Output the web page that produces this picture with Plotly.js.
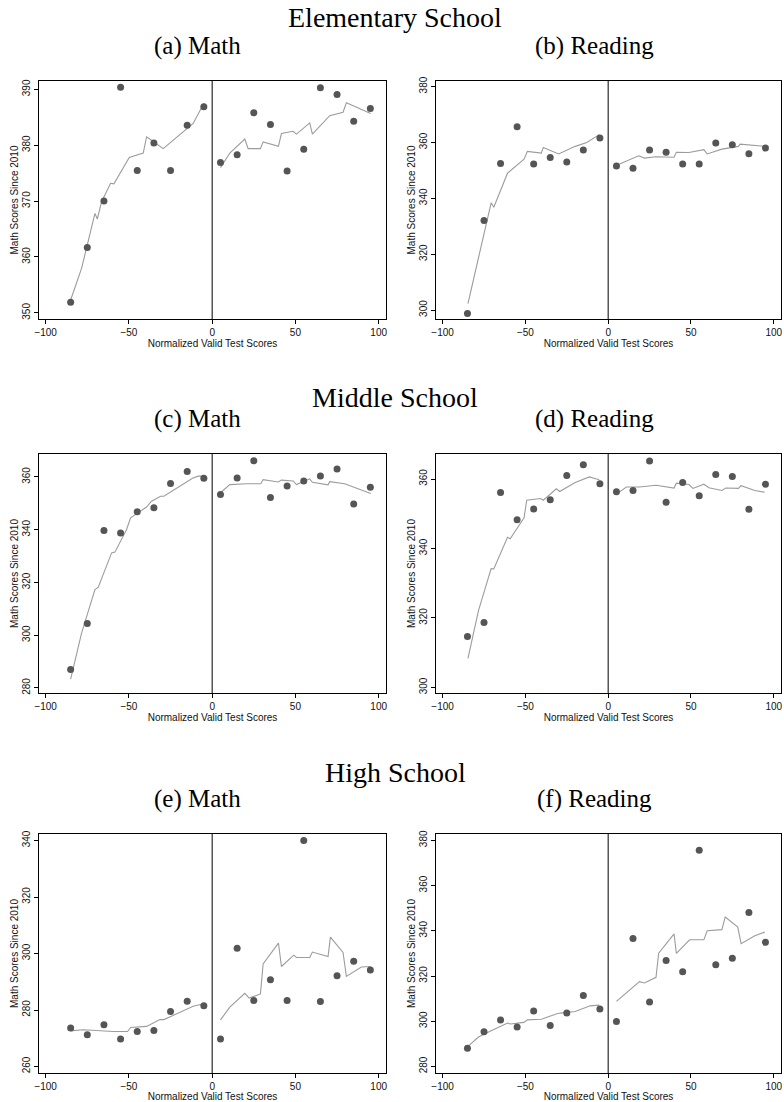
<!DOCTYPE html>
<html>
<head>
<meta charset="utf-8">
<script src="https://cdn.plot.ly/plotly-3.0.1.min.js"></script>
<style>
  html, body { margin: 0; padding: 0; background: #fff; }
  #chart { width: 784px; height: 1102px; }
</style>
</head>
<body>
<div id="chart"></div>
<script>
// Bin midpoints of the normalized valid test score (running variable)
const binX = [-85, -75, -65, -55, -45, -35, -25, -15, -5, 5, 15, 25, 35, 45, 55, 65, 75, 85, 95];

// Elementary school, math
const elemMathMeans = [351.9, 361.7, 370.0, 390.4, 375.5, 380.4, 375.5, 383.6, 386.9, 376.9, 378.3, 385.8, 383.7, 375.4, 379.3, 390.3, 389.1, 384.3, 386.6];
const elemMathFitLeftX = [-85, -78.4, -70.4, -69, -66.4, -61, -59, -49.8, -41.4, -39.4, -36.4, -29.4, -11.4, -5];
const elemMathFitLeftY = [352.3, 358.0, 367.8, 366.8, 369.9, 373.2, 373.1, 377.8, 378.6, 381.5, 380.9, 379.4, 383.9, 387.5];
const elemMathFitRightX = [5, 10.6, 19.6, 21.6, 29, 30.6, 39.8, 41.6, 48.6, 50.6, 58.6, 60.2, 70.6, 78.6, 80.6, 95.2];
const elemMathFitRightY = [376.0, 378.6, 381.1, 379.4, 379.4, 380.6, 379.8, 382.1, 382.5, 382.0, 384.0, 382.0, 385.3, 385.9, 387.6, 385.7];

// Elementary school, reading
const elemReadMeans = [298.8, 332.1, 352.5, 365.6, 352.3, 354.6, 353.0, 357.3, 361.6, 351.6, 350.8, 357.3, 356.5, 352.3, 352.3, 359.8, 359.2, 356.0, 358.0];
const elemReadFitLeftX = [-84.7, -70.7, -69.1, -60.8, -50.8, -48.8, -40.4, -39.2, -29.9, -19.9, -12.9, -5.4];
const elemReadFitLeftY = [302.3, 338.4, 336.8, 349.0, 354.0, 356.8, 356.2, 358.2, 355.9, 358.6, 360.0, 362.8];
const elemReadFitRightX = [4, 13, 18.5, 21.9, 28.9, 39.8, 41.2, 48.8, 57.8, 59.8, 68.7, 78.7, 79.7, 94.6];
const elemReadFitRightY = [351.6, 354.0, 355.2, 354.4, 354.9, 354.7, 356.5, 356.4, 357.4, 355.9, 357.6, 358.6, 359.4, 358.6];

// Middle school, math
const midMathMeans = [287.0, 304.4, 339.7, 338.8, 346.8, 348.3, 357.5, 362.1, 359.5, 353.3, 359.6, 366.1, 352.2, 356.6, 358.5, 360.4, 363.0, 349.7, 356.1];
const midMathFitLeftX = [-85, -78.4, -70.4, -68.4, -60.4, -58.4, -51.4, -49, -39.4, -36.4, -31, -29, -11.8, -8.4, -5];
const midMathFitLeftY = [283.4, 300.9, 317.3, 318.2, 331.2, 331.5, 340.1, 344.5, 348.6, 350.8, 352.7, 352.7, 359.5, 360.3, 360.3];
const midMathFitRightX = [5, 10.6, 20.6, 29.2, 30.6, 39.6, 41.6, 48.6, 50.6, 58.6, 60.2, 69.6, 70.6, 79.6, 95.2];
const midMathFitRightY = [354.0, 357.1, 357.4, 357.4, 359.0, 358.1, 358.8, 358.5, 357.1, 359.3, 358.0, 357.0, 358.2, 357.4, 353.7];

// Middle school, reading
const midReadMeans = [314.7, 318.7, 356.1, 348.3, 351.4, 354.0, 361.0, 364.1, 358.6, 356.3, 356.7, 365.2, 353.3, 359.0, 355.2, 361.3, 360.7, 351.3, 358.5];
const midReadFitLeftX = [-84.7, -78.3, -70.7, -69.1, -60.8, -59.2, -50.8, -49.2, -40.8, -39.2, -31.3, -29.3, -19.9, -11.4, -5.4];
const midReadFitLeftY = [308.4, 322.2, 334.2, 334.1, 343.2, 342.8, 348.8, 353.9, 354.4, 353.9, 357.2, 356.4, 359.0, 360.6, 359.8];
const midReadFitRightX = [4.6, 11, 18.9, 28.9, 39.8, 41.2, 48.8, 51.2, 57.8, 60.8, 68.7, 71.1, 78.7, 80.3, 88.6, 94.6];
const midReadFitRightY = [355.5, 357.7, 357.7, 358.2, 357.4, 358.8, 358.4, 357.3, 358.5, 357.5, 356.7, 357.4, 357.3, 358.1, 356.7, 356.2];

// High school, math
const highMathMeans = [273.6, 271.2, 274.8, 269.7, 272.4, 272.7, 279.5, 283.1, 281.5, 269.7, 301.9, 283.4, 290.7, 283.4, 340.0, 283.0, 292.1, 297.3, 294.2];
const highMathFitLeftX = [-85, -77.4, -59.4, -50.8, -49, -39.4, -31.4, -29, -11.4, -5];
const highMathFitLeftY = [272.6, 273.0, 272.4, 272.4, 273.8, 274.2, 276.6, 276.6, 281.3, 282.2];
const highMathFitRightX = [5, 10.6, 19.6, 22.2, 29, 30.6, 39.8, 41.6, 49, 50.6, 58.6, 60.2, 69.6, 71, 78.6, 80.6, 89.6, 95.2];
const highMathFitRightY = [276.5, 281.0, 285.9, 284.2, 285.7, 296.3, 303.7, 295.4, 299.4, 298.6, 298.6, 300.5, 298.9, 305.8, 300.4, 291.9, 295.2, 295.4];

// High school, reading
const highReadMeans = [288.1, 295.3, 300.5, 297.4, 304.5, 298.1, 303.6, 311.4, 305.4, 299.9, 336.6, 308.5, 326.8, 321.9, 375.6, 325.0, 327.8, 348.1, 334.9];
const highReadFitLeftX = [-84.7, -78.3, -70.7, -60.8, -59.2, -50.8, -48.8, -40.4, -30.9, -28.9, -19.9, -10.9, -5.4];
const highReadFitLeftY = [288.9, 293.0, 295.8, 299.2, 298.8, 299.5, 300.6, 300.9, 303.3, 303.6, 304.3, 306.8, 307.1];
const highReadFitRightX = [5, 18.9, 21.9, 28.9, 30.5, 39.8, 41.2, 49.2, 57.8, 59.8, 68.7, 70.7, 78.3, 80.3, 88.6, 94.6];
const highReadFitRightY = [308.8, 317.5, 316.9, 319.4, 330.1, 338.6, 330.0, 336.0, 336.0, 340.0, 340.5, 346.1, 341.6, 334.3, 337.8, 339.4];

// Axis tick values
const xTicks = [-100, -50, 0, 50, 100];
const yTicksElemMath = [350, 360, 370, 380, 390];
const yTicksElemRead = [300, 320, 340, 360, 380];
const yTicksMidMath = [280, 300, 320, 340, 360];
const yTicksMidRead = [300, 320, 340, 360];
const yTicksHighMath = [260, 280, 300, 320, 340];
const yTicksHighRead = [280, 300, 320, 340, 360, 380];

// Text
const schoolTitles = ["Elementary School", "Middle School", "High School"];
const panelTitles = ["(a) Math", "(b) Reading", "(c) Math", "(d) Reading", "(e) Math", "(f) Reading"];
const xAxisTitle = "Normalized Valid Test Scores";
const yAxisTitle = "Math Scores Since 2010";

const W = 784, H = 1102;
// pixel frames of the six plot regions [left, right] and [top, bottom]
const colPx = [[39, 386], [436, 781]];
const rowPx = [[81, 319], [454, 693], [834, 1073]];

const panels = [
  { means: elemMathMeans, lx: elemMathFitLeftX, ly: elemMathFitLeftY, rx: elemMathFitRightX, ry: elemMathFitRightY, yr: [348.9, 391.5], yt: yTicksElemMath },
  { means: elemReadMeans, lx: elemReadFitLeftX, ly: elemReadFitLeftY, rx: elemReadFitRightX, ry: elemReadFitRightY, yr: [296.8, 382.0], yt: yTicksElemRead },
  { means: midMathMeans, lx: midMathFitLeftX, ly: midMathFitLeftY, rx: midMathFitRightX, ry: midMathFitRightY, yr: [278.1, 368.7], yt: yTicksMidMath },
  { means: midReadMeans, lx: midReadFitLeftX, ly: midReadFitLeftY, rx: midReadFitRightX, ry: midReadFitRightY, yr: [298.4, 367.2], yt: yTicksMidRead },
  { means: highMathMeans, lx: highMathFitLeftX, ly: highMathFitLeftY, rx: highMathFitRightX, ry: highMathFitRightY, yr: [257.7, 342.3], yt: yTicksHighMath },
  { means: highReadMeans, lx: highReadFitLeftX, ly: highReadFitLeftY, rx: highReadFitRightX, ry: highReadFitRightY, yr: [277.1, 382.8], yt: yTicksHighRead }
];

const markerColor = "#555555";
const fitColor = "#9c9c9c";
const tickFont = { family: "Liberation Sans, Arial, sans-serif", size: 10, color: "#111" };
const serif = "Liberation Serif, Times New Roman, serif";

const traces = [];
const shapes = [];
const annotations = [];
const layout = {
  width: W, height: H,
  margin: { l: 0, r: 0, t: 0, b: 0 },
  paper_bgcolor: "#fff", plot_bgcolor: "#fff",
  showlegend: false,
  shapes: shapes, annotations: annotations
};

panels.forEach((p, i) => {
  const n = i + 1;
  const xa = "x" + (n === 1 ? "" : n);
  const ya = "y" + (n === 1 ? "" : n);
  const col = colPx[i % 2], row = rowPx[Math.floor(i / 2)];

  traces.push({
    type: "scatter", mode: "lines", x: p.lx, y: p.ly, xaxis: xa, yaxis: ya,
    line: { color: fitColor, width: 1.1 }, hoverinfo: "skip"
  });
  traces.push({
    type: "scatter", mode: "lines", x: p.rx, y: p.ry, xaxis: xa, yaxis: ya,
    line: { color: fitColor, width: 1.1 }, hoverinfo: "skip"
  });
  traces.push({
    type: "scatter", mode: "markers", x: binX, y: p.means, xaxis: xa, yaxis: ya,
    marker: { color: markerColor, size: 7, line: { width: 0 } }
  });

  const axCommon = {
    showgrid: false, zeroline: false, showline: true, mirror: true,
    linecolor: "#000", linewidth: 1, ticks: "outside", ticklen: 4,
    tickcolor: "#000", tickwidth: 1, tickfont: tickFont
  };
  layout["xaxis" + (n === 1 ? "" : n)] = Object.assign({}, axCommon, {
    anchor: ya,
    domain: [col[0] / W, col[1] / W],
    range: [-104, 104.4],
    tickvals: xTicks,
    title: { text: xAxisTitle, font: tickFont, standoff: 0 }
  });
  layout["yaxis" + (n === 1 ? "" : n)] = Object.assign({}, axCommon, {
    anchor: xa,
    domain: [1 - row[1] / H, 1 - row[0] / H],
    range: p.yr,
    tickvals: p.yt,
    tickangle: -90,
    title: { text: yAxisTitle, font: tickFont, standoff: 0 }
  });

  // cutoff line at zero
  shapes.push({
    type: "line", xref: xa, yref: ya + " domain", x0: 0, x1: 0, y0: 0, y1: 1,
    line: { color: "#000", width: 1 }
  });
});

// School-level headings and panel captions
const schoolY = [17.8, 397.8, 772.5];
const panelY = [46, 419, 799];
const panelXc = [197, 594];
schoolTitles.forEach((t, r) => {
  annotations.push({
    text: t, xref: "paper", yref: "paper", x: 395 / W, y: 1 - schoolY[r] / H,
    xanchor: "center", yanchor: "middle", showarrow: false,
    font: { family: serif, size: 28, color: "#000" }
  });
  for (let c = 0; c < 2; c++) {
    annotations.push({
      text: panelTitles[r * 2 + c], xref: "paper", yref: "paper",
      x: panelXc[c] / W, y: 1 - panelY[r] / H,
      xanchor: "center", yanchor: "middle", showarrow: false,
      font: { family: serif, size: 25, color: "#000" }
    });
  }
});

Plotly.newPlot("chart", traces, layout, { staticPlot: true, displayModeBar: false });
</script>
</body>
</html>
